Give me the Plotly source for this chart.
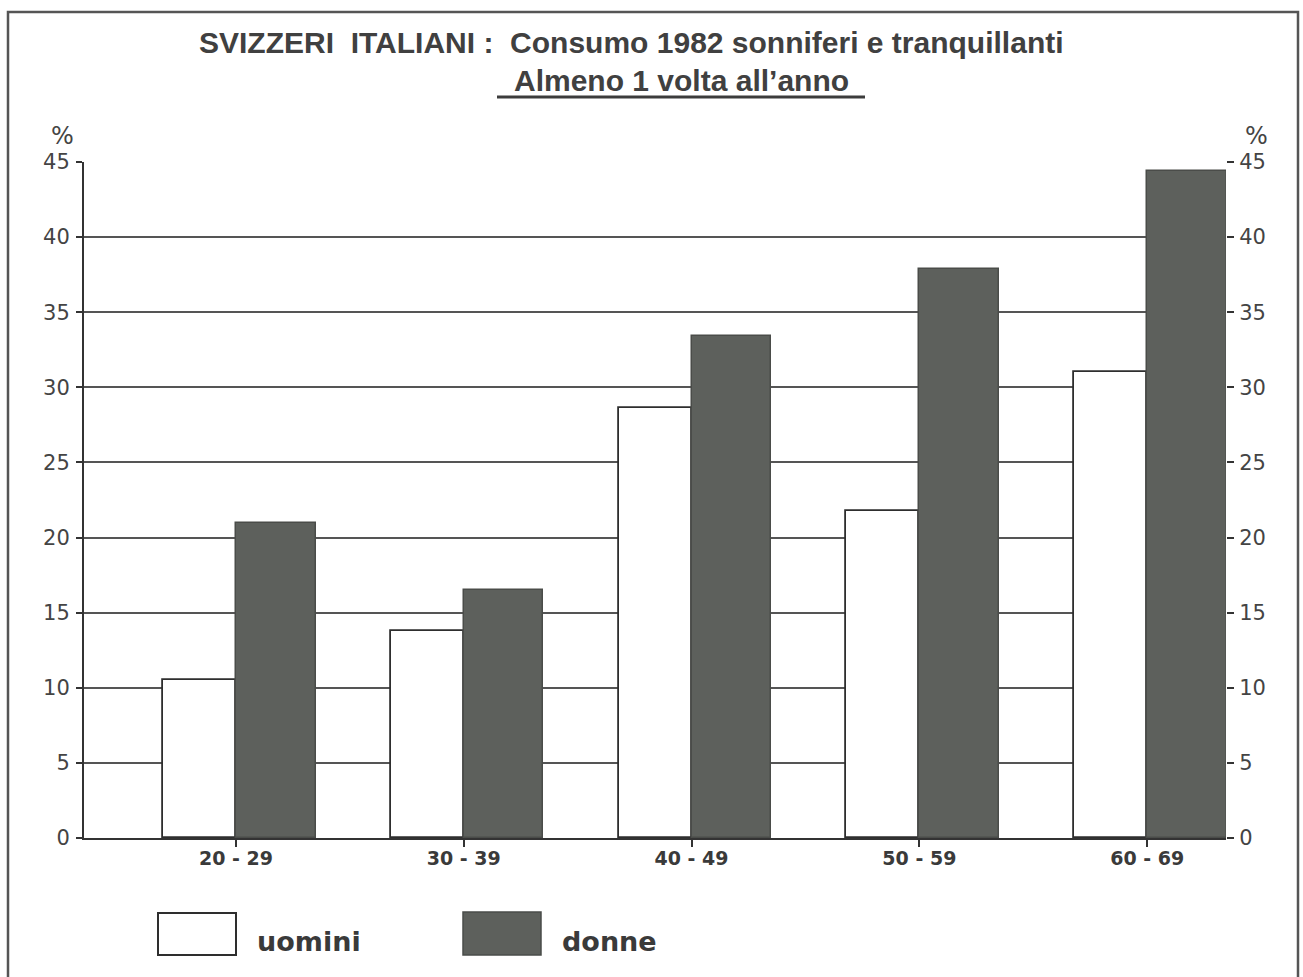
import plotly.graph_objects as go

categories = ["20 - 29", "30 - 39", "40 - 49", "50 - 59", "60 - 69"]
uomini = [10.5, 13.8, 28.6, 21.8, 31.0]
donne = [21.0, 16.5, 33.4, 37.9, 44.4]
y_ticks = [0, 5, 10, 15, 20, 25, 30, 35, 40, 45]
series_names = ["uomini", "donne"]

W, H = 1303, 977
L, R, T, B = 84, 1226, 162, 838  # plot area pixel edges

def px(x):
    return (x - L) / (R - L)

def py(y):
    return (B - y) / (B - T)

DARK = "#5d605c"
INK = "#3a3a3a"
pos = list(range(len(categories)))

fig = go.Figure()
fig.add_trace(go.Bar(x=pos, y=uomini, name=series_names[0], offset=-0.32, width=0.32,
                     marker=dict(color="white", line=dict(color="#2e2e2e", width=1.8)),
                     showlegend=False))
fig.add_trace(go.Bar(x=pos, y=donne, name=series_names[1], offset=0.0, width=0.35,
                     marker=dict(color=DARK, line=dict(color="#4a4c49", width=1.5)),
                     showlegend=False))
fig.add_trace(go.Scatter(x=pos, y=donne, yaxis="y2", mode="markers",
                         marker=dict(opacity=0), showlegend=False, hoverinfo="skip"))

axis_font = dict(family="DejaVu Sans, sans-serif", size=21, color="#444444")

fig.update_layout(
    width=W, height=H,
    margin=dict(l=L, r=W - R, t=T, b=H - B, pad=0),
    paper_bgcolor="white", plot_bgcolor="white",
    bargap=0, barmode="overlay",
    xaxis=dict(range=[-0.667, 4.346], tickvals=pos, ticktext=categories,
               showgrid=False, zeroline=False, showline=True, linecolor="#333333", linewidth=2,
               ticks="outside", ticklen=7, tickwidth=2, tickcolor="#333333",
               tickfont=dict(family="DejaVu Sans, sans-serif", size=19, color=INK, weight="bold"),
               ticklabelstandoff=-5),
    yaxis=dict(range=[0, 45], tickvals=y_ticks, showgrid=True, gridcolor="#555555", gridwidth=1.5,
               zeroline=False, showline=True, linecolor="#333333", linewidth=2,
               ticks="outside", ticklen=6, tickwidth=2, tickcolor="#333333",
               tickfont=axis_font, ticklabelstandoff=2),
    yaxis2=dict(range=[0, 45], tickvals=y_ticks, overlaying="y", side="right",
                showgrid=False, zeroline=False, showline=False,
                ticks="outside", ticklen=7, tickwidth=2, tickcolor="#333333",
                tickfont=axis_font, ticklabelstandoff=1),
)

shapes = []
annotations = []
# outer frame
shapes.append(dict(type="rect", xref="paper", yref="paper",
                   x0=px(8), x1=px(1298), y0=py(1000), y1=py(12),
                   line=dict(color="#555555", width=2.5), fillcolor="rgba(0,0,0,0)", layer="below"))
# titles
title_font = dict(family="Liberation Sans, Arial, sans-serif", size=30, color="#404040")
annotations.append(dict(text="<b>SVIZZERI  ITALIANI :  Consumo 1982 sonniferi e tranquillanti</b>",
                        xref="paper", yref="paper", x=px(631), y=py(61), showarrow=False,
                        xanchor="center", yanchor="bottom", font=title_font))
annotations.append(dict(text="<b>Almeno 1 volta all\u2019anno</b>",
                        xref="paper", yref="paper", x=px(681), y=py(62), showarrow=False,
                        xanchor="center", yanchor="top", font=title_font))
shapes.append(dict(type="line", xref="paper", yref="paper", x0=px(497), x1=px(865),
                   y0=py(97), y1=py(97), line=dict(color="#3c3c3c", width=3)))
# percent signs
for xx in (62, 1256):
    annotations.append(dict(text="%", xref="paper", yref="paper", x=px(xx), y=py(136),
                            showarrow=False, xanchor="center", yanchor="middle",
                            font=dict(family="DejaVu Sans, sans-serif", size=24, color="#444444")))
# legend
shapes.append(dict(type="rect", xref="paper", yref="paper", x0=px(158), x1=px(236),
                   y0=py(955), y1=py(913), line=dict(color="#2e2e2e", width=2), fillcolor="white"))
shapes.append(dict(type="rect", xref="paper", yref="paper", x0=px(463), x1=px(541),
                   y0=py(955), y1=py(912), line=dict(color="#4a4c49", width=1.5), fillcolor=DARK))
for name, xx in zip(series_names, (255, 560)):
    annotations.append(dict(text="<b>%s</b>" % name, xref="paper", yref="paper", x=px(xx), y=py(942),
                            showarrow=False, xanchor="left", yanchor="middle",
                            font=dict(family="DejaVu Sans, sans-serif", size=27, color=INK)))

fig.update_layout(shapes=shapes, annotations=annotations)
fig.write_html("out.html", config={"displayModeBar": False},
               post_script="document.body.style.margin='0px';document.body.style.overflow='hidden';")
